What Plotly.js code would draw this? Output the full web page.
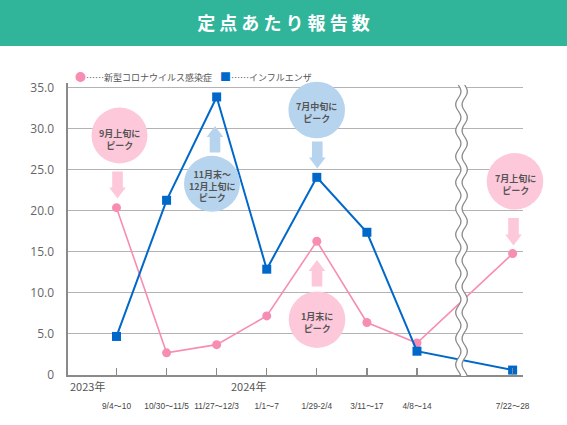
<!DOCTYPE html>
<html><head><meta charset="utf-8">
<script src="https://cdn.plot.ly/plotly-3.0.1.min.js"></script>
<style>html,body{margin:0;padding:0;background:#fff;}#chart{width:567px;height:425px;}</style>
</head><body><div id="chart"></div>
<script>
// ---- data ----
const weekLabels = ["9/4～10","10/30～11/5","11/27～12/3","1/1～7","1/29-2/4","3/11～17","4/8～14","7/22～28"];
const covidValues = [20.4, 2.7, 3.7, 7.2, 16.3, 6.4, 3.9, 14.8];
const fluValues   = [4.7, 21.3, 33.9, 12.9, 24.1, 17.4, 2.9, 0.6];
const yTickVals = [0,5,10,15,20,25,30,35];
const yTickText = ["0","5.0","10.0","15.0","20.0","25.0","30.0","35.0"];
const covidName = "新型コロナウイルス感染症";
const fluName = "インフルエンザ";

// ---- layout helpers ----
const W = 567, Hh = 425;
const L = 68, R = 44, T = 83, B = 50;
const PW = W - L - R, PH = Hh - T - B;
const px = v => (v - L) / PW;          // pixel x -> paper
const py = v => (T + PH - v) / PH;     // pixel y -> paper
const breakGap = 1.91;                 // extra spacing after the axis break
const xPos = weekLabels.map((_, i) => i < weekLabels.length - 1 ? i + 1 : i + breakGap);

const pink = "#f78db2", blue = "#0068c9";
const pinkLight = "#fdc8da", blueLight = "#b7d4ef";

function circleShape(cx, cy, r, color) {
  return {type:"circle", xref:"paper", yref:"paper", x0:px(cx-r), x1:px(cx+r), y0:py(cy+r), y1:py(cy-r),
          fillcolor:color, line:{width:0}, layer:"above"};
}
function arrowShape(cx, start, tip, color) {
  const dir = tip > start ? 1 : -1;   // 1 = pointing down
  const sw = 5.3, hw = 8.3, hh = 11;
  const neck = tip - dir*hh;
  const pts = [[cx-sw,start],[cx+sw,start],[cx+sw,neck],[cx+hw,neck],[cx,tip],[cx-hw,neck],[cx-sw,neck]];
  const d = "M" + pts.map(p => px(p[0]).toFixed(5)+","+py(p[1]).toFixed(5)).join(" L") + " Z";
  return {type:"path", xref:"paper", yref:"paper", path:d, fillcolor:color, line:{width:0}, layer:"above"};
}
function wave(cx, y0, y1, reverse) {
  const pts = [];
  for (let y = y0; y <= y1 + 0.01; y += 1) pts.push([cx + 2.6*Math.sin(2*Math.PI*(y - y0)/26), y]);
  if (reverse) pts.reverse();
  return pts;
}
const wTop = 85, wBot = 376;
const leftW = wave(458.3, wTop, wBot, false), rightW = wave(464.7, wTop, wBot, true);
const toPath = (pts, close) => "M" + pts.map(p => px(p[0]).toFixed(5)+","+py(p[1]).toFixed(5)).join(" L") + (close ? " Z" : "");

const shapes = [
  {type:"rect", xref:"paper", yref:"paper", x0:px(0), x1:px(W), y0:py(46), y1:py(0), fillcolor:"#30b59b", line:{width:0}, layer:"below"},
  {type:"path", xref:"paper", yref:"paper", path:toPath(leftW.concat(rightW), true), fillcolor:"#ffffff", line:{width:0}, layer:"above"},
  {type:"path", xref:"paper", yref:"paper", path:toPath(leftW, false), line:{color:"#8a8a8a", width:1.3}, layer:"above"},
  {type:"path", xref:"paper", yref:"paper", path:toPath(rightW, false), line:{color:"#8a8a8a", width:1.3}, layer:"above"},
  circleShape(119.5, 135.5, 28, pinkLight),
  arrowShape(117.5, 171.5, 198.5, pinkLight),
  circleShape(212, 183.8, 28, blueLight),
  arrowShape(215, 152.5, 126, blueLight),
  circleShape(316.7, 110, 28.3, blueLight),
  arrowShape(317.3, 141.5, 168.5, blueLight),
  circleShape(317, 319.7, 28.3, pinkLight),
  arrowShape(317, 286.5, 260, pinkLight),
  circleShape(515, 181.3, 28.3, pinkLight),
  arrowShape(513.5, 218, 245.5, pinkLight)
];

const cFont = {family:"Noto Sans CJK JP", size:9, color:"#555555", weight:"bold"};
function callout(cx, cy, text) {
  return {xref:"paper", yref:"paper", x:px(cx), y:py(cy), text:text, showarrow:false, font:cFont, xanchor:"center", yanchor:"middle"};
}
const legFont = {family:"Noto Sans CJK JP", size:9, color:"#555"};
const annotations = [
  callout(119.5, 139, "9月上旬に<br>ピーク"),
  callout(212, 186, "11月末～<br>12月上旬に<br>ピーク"),
  callout(316.7, 113, "7月中旬に<br>ピーク"),
  callout(317, 322.5, "1月末に<br>ピーク"),
  callout(515, 184, "7月上旬に<br>ピーク"),
  {xref:"paper", yref:"paper", x:px(67.6), y:py(386), text:"2023年", showarrow:false, xanchor:"left", yanchor:"middle",
   font:{family:"Noto Sans CJK JP", size:11, color:"#555"}},
  {xref:"x", yref:"paper", x:4, y:py(386), text:"2024年", showarrow:false, xanchor:"right", yanchor:"middle", xshift:1,
   font:{family:"Noto Sans CJK JP", size:11, color:"#555"}},
  {xref:"paper", yref:"paper", x:px(73), y:py(76), showarrow:false, xanchor:"left", yanchor:"middle",
   text:'<span style="color:'+pink+';font-size:11px">●</span>……'+covidName, font:legFont},
  {xref:"paper", yref:"paper", x:px(218), y:py(76), showarrow:false, xanchor:"left", yanchor:"middle",
   text:'<span style="color:'+blue+';font-size:11px">■</span>……'+fluName, font:legFont}
];

const traces = [
  {x:xPos, y:covidValues, name:covidName, mode:"lines+markers", type:"scatter",
   line:{color:pink, width:1.6}, marker:{color:pink, size:9, symbol:"circle"}, cliponaxis:false},
  {x:xPos, y:fluValues, name:fluName, mode:"lines+markers", type:"scatter",
   line:{color:blue, width:2}, marker:{color:blue, size:9, symbol:"square"}, cliponaxis:false}
];

const x0 = 1 - (116.5 - L)/50.08;
const layout = {
  width:W, height:Hh, margin:{l:L, r:R, t:T, b:B, pad:0},
  paper_bgcolor:"#ffffff", plot_bgcolor:"rgba(0,0,0,0)", showlegend:false,
  title:{text:"定 点 あ た り 報 告 数", x:0.5, xanchor:"center", y:1-24/Hh, yanchor:"middle", yref:"container",
         font:{family:"Noto Sans CJK JP", size:18, color:"#ffffff", weight:"bold"}},
  xaxis:{range:[x0, x0 + PW/50.08], tickvals:xPos, ticktext:weekLabels, ticks:"inside", ticklen:7, tickwidth:1.3,
         tickcolor:"#8a8a8a", showgrid:false, zeroline:false, showline:true, linecolor:"#8a8a8a", linewidth:2,
         tickangle:0, ticklabelstandoff:22, tickfont:{family:"Liberation Sans, Noto Sans CJK JP", size:8.3, color:"#444"}, fixedrange:true},
  yaxis:{range:[0, 35.6], tickvals:yTickVals, ticktext:yTickText, showgrid:true, gridcolor:"#b3b3b3", gridwidth:1,
         zeroline:false, showline:true, linecolor:"#8a8a8a", linewidth:2.5, ticks:"", ticklabelstandoff:9,
         tickfont:{family:"Open Sans", size:12, color:"#666"}, fixedrange:true},
  shapes:shapes, annotations:annotations
};
Plotly.newPlot("chart", traces, layout, {displayModeBar:false, staticPlot:true});
</script></body></html>
